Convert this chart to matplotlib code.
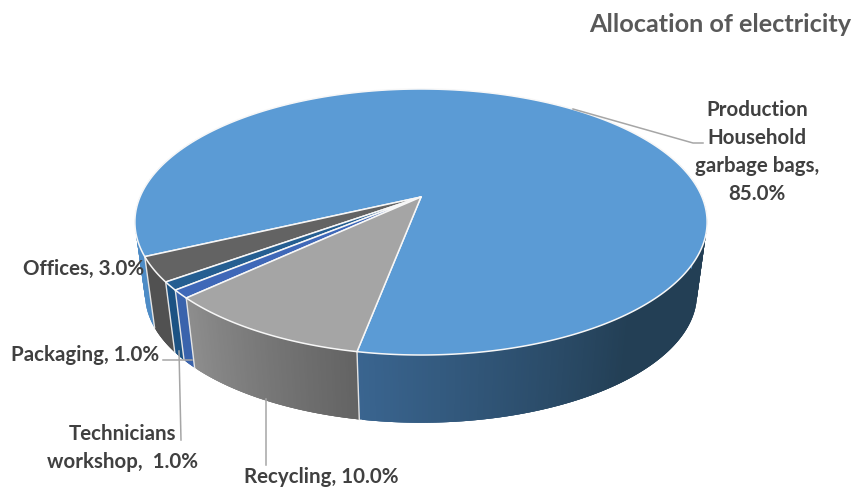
import numpy as np
import matplotlib
matplotlib.use('Agg')
import matplotlib.pyplot as plt
from matplotlib.colors import to_rgb

# slices in drawing order, counter-clockwise from the front edge of Production
names  = ['Production', 'Offices', 'Packaging', 'Technicians', 'Recycling']
values = [85.0, 3.0, 1.0, 1.0, 10.0]
top_colors = ['#5b9bd5', '#636363', '#255e91', '#3f68b8', '#a5a5a5']

START = 259.3
CX, CY = 421, 198
A, B, K = 281, 128.3, 0.188
A2, B2, DEPTH = 271, 124, 73
TEXT = '#404040'
LINE = '#a6a6a6'
FONT = 'Lato'

plt.rcParams['font.family'] = FONT


def top_xy(t):
    t = np.radians(t)
    w = 1 + K * np.sin(t)
    return CX + A * np.cos(t) / w, CY - B * np.sin(t) / w


def low_xy(t):
    t = np.radians(t)
    w = 1 + K * np.sin(t)
    return CX + A2 * np.cos(t) / w, CY + DEPTH - B2 * np.sin(t) / w


def wall_color(i, t):
    t = t % 360
    if i == 0:
        if t < 230:
            c1, c2, f = '#4e8cc6', '#4e8cc6', 0
        else:
            t = t if t > 200 else t + 360
            c1, c2, f = '#3a6590', '#233f55', min(1, (t - 259) / 50)
    elif i == 1:
        c1, c2, f = '#555555', '#4d4d4d', 0.5
    elif i == 2:
        c1, c2, f = '#1c5283', '#1c5283', 0
    elif i == 3:
        c1, c2, f = '#3a63ac', '#3a63ac', 0
    else:
        c1, c2, f = '#8e8e8e', '#636363', (t - 223) / 36
    return tuple((1 - f) * a + f * b for a, b in zip(to_rgb(c1), to_rgb(c2)))


fig = plt.figure(figsize=(8.53, 4.89), dpi=100)
fig.patch.set_facecolor('white')
ax = fig.add_axes([0, 0, 1, 1])
ax.set_xlim(0, 853)
ax.set_ylim(489, 0)
ax.axis('off')

spans = [v / sum(values) * 360 for v in values]
edges = START + np.concatenate([[0], np.cumsum(spans)])

# side walls, each strip overlaps the next so no seams show through
for i, span in enumerate(spans):
    for t in np.arange(edges[i], edges[i + 1], 0.5):
        tm = t % 360
        if not (150 <= tm <= 360 or tm < 15):
            continue
        t_end = min(t + 1.5, edges[i + 1])
        ts = np.linspace(t, t_end, 4)
        x1, y1 = top_xy(ts)
        x2, y2 = low_xy(ts)
        c = wall_color(i, t)
        ax.fill(np.r_[x1, x2[::-1]], np.r_[y1, y2[::-1]],
                facecolor=c, edgecolor='none', zorder=2)

# white seams on the front of the wall
for e in edges[:-1]:
    if 180 < e % 360 < 360:
        x1, y1 = top_xy(e)
        x2, y2 = low_xy(e)
        ax.plot([x1, x2], [y1, y2], color='#e4e4e4', lw=1.0, zorder=3)

# top faces
for i, span in enumerate(spans):
    ts = np.linspace(edges[i], edges[i + 1], max(6, int(span * 2)))
    x, y = top_xy(ts)
    ax.fill(np.r_[CX, x], np.r_[CY, y], facecolor=top_colors[i],
            edgecolor='#f7f7f7', lw=1.1, joinstyle='round', zorder=4)

# leader lines
ax.plot([573, 693, 703], [110, 144, 144], color=LINE, lw=1.1, zorder=5)
ax.plot([163, 192], [361, 361], color=LINE, lw=1.1, zorder=5)
ax.plot([179, 181], [352, 441], color=LINE, lw=1.1, zorder=5)
ax.plot([266, 266], [400, 466], color=LINE, lw=1.1, zorder=5)

# labels
lab = dict(color=TEXT, fontsize=14.8, fontweight='bold', zorder=6)
ax.text(757, 152, 'Production\nHousehold\ngarbage bags,\n85.0%', ha='center',
        va='center', linespacing=1.5, **lab)
ax.text(23, 269, 'Offices, 3.0%', ha='left', va='center', **lab)
ax.text(11, 355, 'Packaging, 1.0%', ha='left', va='center', **lab)
ax.text(123, 448, 'Technicians\nworkshop,  1.0%', ha='center', va='center',
        linespacing=1.45, **lab)
ax.text(244, 477, 'Recycling, 10.0%', ha='left', va='center', **lab)
ax.text(851, 24, 'Allocation of electricity', ha='right', va='center',
        color='#595959', fontsize=18.2, fontweight='bold', zorder=6)

fig.savefig('out.png', dpi=100, facecolor='white')
